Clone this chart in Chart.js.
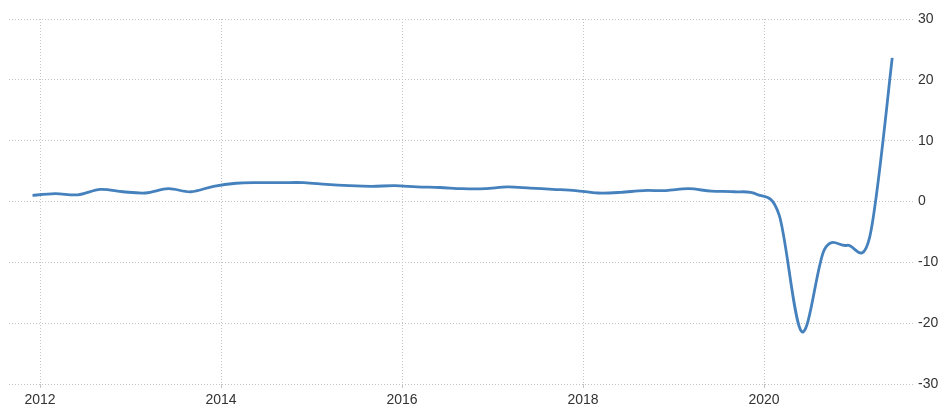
<!DOCTYPE html>
<html>
<head>
<meta charset="utf-8">
<script src="https://cdn.jsdelivr.net/npm/chart.js@4/dist/chart.umd.min.js"></script>
<style>
  html, body { margin: 0; padding: 0; background: #ffffff; }
  #wrap { width: 942px; height: 409px; position: relative; }
</style>
</head>
<body>
<div id="wrap"><canvas id="chart"></canvas></div>
<script>
// Quarterly GDP growth, year on year (%), one value per quarter (plotted at the quarter's last month)
const quarters = [
  "2011-12",
  "2012-03", "2012-06", "2012-09", "2012-12",
  "2013-03", "2013-06", "2013-09", "2013-12",
  "2014-03", "2014-06", "2014-09", "2014-12",
  "2015-03", "2015-06", "2015-09", "2015-12",
  "2016-03", "2016-06", "2016-09", "2016-12",
  "2017-03", "2017-06", "2017-09", "2017-12",
  "2018-03", "2018-06", "2018-09", "2018-12",
  "2019-03", "2019-06", "2019-09", "2019-12",
  "2020-03", "2020-06", "2020-09", "2020-12",
  "2021-03", "2021-06"
];
const growth = [
  1.0,
  1.3, 1.1, 2.0, 1.6,
  1.4, 2.1, 1.6, 2.5,
  3.0, 3.1, 3.1, 3.1,
  2.8, 2.6, 2.5, 2.6,
  2.4, 2.3, 2.1, 2.1,
  2.4, 2.2, 2.0, 1.8,
  1.4, 1.5, 1.8, 1.8,
  2.1, 1.7, 1.6, 1.2,
  -2.2, -21.4, -7.9, -7.2,
  -5.9, 23.6
];
const yearTicks = [2012, 2014, 2016, 2018, 2020];
const valueTicks = [-30, -20, -10, 0, 10, 20, 30];

// "YYYY-MM" -> fractional year, so the x axis can be a plain linear scale
function toYear(s) {
  const [y, m] = s.split("-").map(Number);
  return y + (m - 1) / 12;
}
const points = quarters.map((q, i) => ({ x: toYear(q), y: growth[i] }));

const gridColor = "#c4c4c4";
const gridDash = [1, 2];
const tickFont = { family: "'Liberation Sans', Arial, sans-serif", size: 14 };

// Smooth the line with a uniform Catmull-Rom spline: each point's bezier
// handles run parallel to the chord between its neighbours (1/6 of it).
const uniformSpline = {
  id: "uniformSpline",
  beforeDatasetDraw(chart, args) {
    const meta = args.meta;
    const pts = meta.data;
    const n = pts.length;
    for (let i = 0; i < n; i++) {
      const p = pts[i];
      const prev = pts[Math.max(i - 1, 0)];
      const next = pts[Math.min(i + 1, n - 1)];
      const dx = (next.x - prev.x) / 6;
      const dy = (next.y - prev.y) / 6;
      p.cp1x = p.x - dx;
      p.cp1y = p.y - dy;
      p.cp2x = p.x + dx;
      p.cp2y = p.y + dy;
    }
    if (meta.dataset) {
      meta.dataset._pointsUpdated = true;
      meta.dataset._path = undefined;
    }
  }
};

new Chart(document.getElementById("chart"), {
  type: "line",
  data: {
    datasets: [{
      data: points,
      borderColor: "#4581bd",
      borderWidth: 2.8,
      pointRadius: 0,
      pointHoverRadius: 0,
      tension: 0.4,
      fill: false
    }]
  },
  options: {
    responsive: true,
    maintainAspectRatio: false,
    animation: false,
    events: [],
    layout: { padding: { left: 9, top: 19, right: 0, bottom: 0 } },
    plugins: { legend: { display: false }, tooltip: { enabled: false } },
    scales: {
      x: {
        type: "linear",
        min: 2011.657,
        max: 2021.646,
        afterBuildTicks: (scale) => { scale.ticks = yearTicks.map(v => ({ value: v })); },
        afterFit: (scale) => { scale.height = 25; },
        border: { display: false, dash: gridDash },
        grid: {
          color: gridColor,
          lineWidth: 1,
          tickLength: 4,
          drawTicks: true
        },
        ticks: {
          color: "#333333",
          font: tickFont,
          padding: 4,
          maxRotation: 0,
          callback: (v) => String(v)
        }
      },
      y: {
        position: "right",
        min: -30,
        max: 30,
        afterBuildTicks: (scale) => { scale.ticks = valueTicks.map(v => ({ value: v })); },
        afterFit: (scale) => { scale.width = 29; },
        border: { display: false, dash: gridDash },
        grid: {
          color: gridColor,
          lineWidth: 1,
          drawTicks: false
        },
        ticks: {
          color: "#333333",
          font: tickFont,
          padding: 5,
          crossAlign: "near"
        }
      }
    }
  },
  plugins: [uniformSpline]
});
</script>
</body>
</html>
